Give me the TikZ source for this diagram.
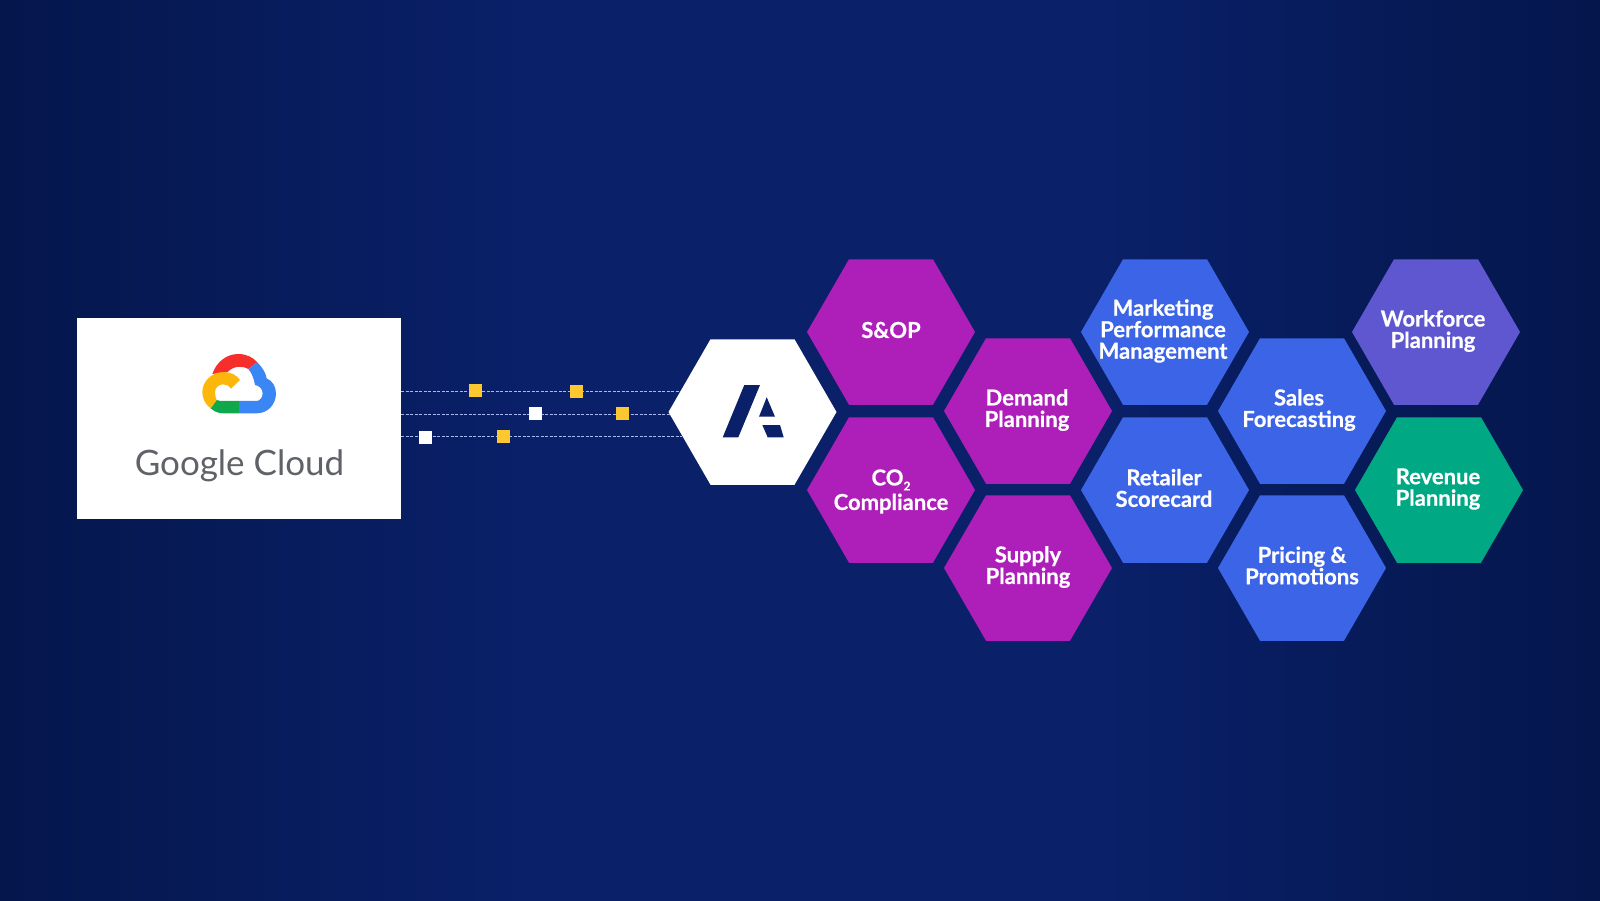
\documentclass[tikz,border=0pt]{standalone}
\usepackage{fontspec}
\setmainfont{Lato}[BoldFeatures={FakeBold=0.6}]
\usepackage{tikz}
\usetikzlibrary{shapes.geometric}
\definecolor{bgedge}{HTML}{05164C}
\definecolor{bgside}{HTML}{071C5C}
\definecolor{bgmid}{HTML}{0A2069}
\definecolor{hexpurple}{HTML}{AD1FB8}
\definecolor{hexblue}{HTML}{3B64E6}
\definecolor{hexviolet}{HTML}{5F57CF}
\definecolor{hexgreen}{HTML}{00A884}
\definecolor{chipyellow}{HTML}{FDC82F}
\definecolor{wirecol}{HTML}{A9B8F0}
\definecolor{gcgray}{HTML}{5F6368}
\definecolor{gcred}{HTML}{F62F2C}
\definecolor{gcblue}{HTML}{3A86F5}
\definecolor{gcyellow}{HTML}{FDB70B}
\definecolor{gcgreen}{HTML}{0FA84A}
\pgfdeclarehorizontalshading{bgshade}{100bp}{color(0bp)=(bgedge); color(25bp)=(bgedge);
  color(34bp)=(bgside); color(42bp)=(bgmid); color(59bp)=(bgmid); color(66bp)=(bgside);
  color(75bp)=(bgedge); color(100bp)=(bgedge)}
\tikzset{
    hexbox/.style={regular polygon, regular polygon sides=6, minimum size=168pt, inner sep=0pt, fill=#1},
    hexlabel/.style={inner sep=0pt, text=white, align=center, yshift=1pt, font=\fontsize{22}{21.5}\selectfont\bfseries},
    chip/.style={rectangle, minimum size=13pt, inner sep=0pt, fill=#1},
    wire/.style={wirecol, line width=0.8pt, dash pattern=on 3pt off 1.5pt},
}

\begin{document}
\begin{tikzpicture}[x=1pt,y=-1pt]
\useasboundingbox (0,0) rectangle (1600,900);
\fill[shading=bgshade] (0,0) rectangle (1600,900);

\node[rectangle, fill=white, minimum width=324pt, minimum height=201pt, inner sep=0pt] (gcbox) at (239,418.5) {};
\node[hexbox=white] (logohex) at (752.5,412) {};

\node[hexbox=hexpurple, label={[hexlabel,yshift=1pt]center:S\&OP}] (sop) at (891,332) {};
\node[hexbox=hexpurple, label={[hexlabel,yshift=-2.5pt]center:CO\raisebox{-5pt}{\fontsize{12}{12}\selectfont 2}\\[3pt]Compliance}] (co2) at (891,490) {};
\node[hexbox=hexpurple, label={[hexlabel,xshift=-1pt]center:Demand\\Planning}] (demand) at (1028,411) {};
\node[hexbox=hexpurple, label={[hexlabel]center:Supply\\Planning}] (supply) at (1028,568) {};
\node[hexbox=hexblue, label={[hexlabel,xshift=-2pt]center:Marketing\\Performance\\Management}] (marketing) at (1165,332) {};
\node[hexbox=hexblue, label={[hexlabel,xshift=-1pt,yshift=1pt]center:Retailer\\Scorecard}] (retailer) at (1165,490) {};
\node[hexbox=hexblue, label={[hexlabel,xshift=-3pt]center:Sales\\Forecasting}] (sales) at (1302,411) {};
\node[hexbox=hexblue, label={[hexlabel,yshift=1.5pt]center:Pricing \&\\Promotions}] (pricing) at (1302,568) {};
\node[hexbox=hexviolet, label={[hexlabel,xshift=-3pt]center:Workforce\\Planning}] (workforce) at (1436,332) {};
\node[hexbox=hexgreen, label={[hexlabel,xshift=-1pt]center:Revenue\\Planning}] (revenue) at (1439,490) {};

% wires end on the slanted sides of the white hexagon
\coordinate (enda) at (680,391);
\coordinate (endb) at (670,414.5);
\coordinate (endc) at (682,436);
\draw[wire] (gcbox.east |- enda) -- (enda);
\draw[wire] (gcbox.east |- endb) -- (endb);
\draw[wire] (gcbox.east |- endc) -- (endc);

\node[chip=chipyellow] (c1) at (475,390) {};
\node[chip=chipyellow] (c2) at (576.5,391) {};
\node[chip=white] (c3) at (535,413.5) {};
\node[chip=chipyellow] (c4) at (622.5,413.5) {};
\node[chip=white] (c5) at (425,437) {};
\node[chip=chipyellow] (c6) at (503.5,436.5) {};

% the A of the white hexagon
\fill[bgmid] (744.3,385) -- (760,385) -- (738.3,437.3) -- (722.7,437.3) -- cycle;
\fill[bgmid] (766.7,397.3) -- (775,416.7) -- (759,416.7) -- cycle;
\fill[bgmid] (762.3,425) -- (780,425) -- (783.7,437.3) -- (767.7,437.3) -- cycle;

% cloud
\begin{scope}[shift={(60,300)},x=0.3333pt,y=-0.3333pt]
\fill[gcred] (457,222) .. controls (470,185) and (500,162) .. (535,162) .. controls (558,162) and (578,171) .. (592,187)
  -- (565,207) .. controls (545,196) and (520,198) .. (503,216) -- cycle;
\fill[gcblue] (592,187) .. controls (607,202) and (617,218) .. (620,235) .. controls (638,243) and (648,260) .. (648,280)
  .. controls (648,315) and (622,340) .. (590,340) -- (537,340) -- (537,303) -- (590,303)
  .. controls (600,303) and (608,292) .. (608,280) .. controls (608,268) and (598,256) .. (585,255)
  .. controls (582,235) and (575,218) .. (565,207) -- cycle;
\fill[gcgreen] (537,340) -- (537,303) -- (490,303) .. controls (482,303) and (475,302) .. (470,300) -- (452,325)
  .. controls (463,335) and (476,340) .. (490,340) -- cycle;
\fill[gcyellow] (452,325) .. controls (436,313) and (427,296) .. (427,277) .. controls (427,243) and (456,216) .. (492,216)
  .. controls (512,216) and (530,225) .. (540,240) -- (513,266) .. controls (508,258) and (500,253) .. (490,253)
  .. controls (476,253) and (465,263) .. (465,277) .. controls (465,287) and (468,295) .. (470,300) -- cycle;
\end{scope}

\node[anchor=base, text=gcgray, inner sep=0pt, font=\fontsize{35}{35}\selectfont] (gclabel) at (239.5,475) {Google Cloud};
\end{tikzpicture}
\end{document}
